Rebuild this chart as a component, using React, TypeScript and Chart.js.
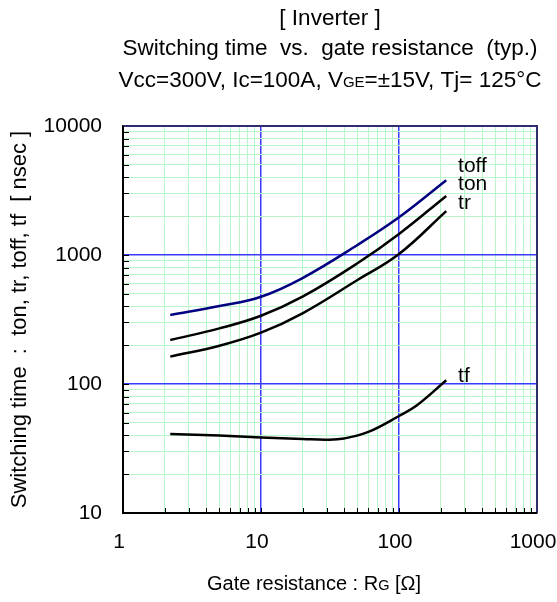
import React, { useEffect, useRef } from 'react';
import { Chart, registerables } from 'chart.js';

Chart.register(...registerables);

const FONT = "'Liberation Sans', Arial, Helvetica, sans-serif";

// ---- text ----
const titleLine1 = '[ Inverter ]';
const titleLine2 = 'Switching time  vs.  gate resistance  (typ.)';
const titleLine3Parts: [string, boolean][] = [
  ['Vcc=300V, Ic=100A, V', false],
  ['GE', true],
  ['=±15V, Tj= 125°C', false],
];
const xAxisTitleParts: [string, boolean][] = [
  ['Gate resistance : R', false],
  ['G', true],
  [' [Ω]', false],
];
const yAxisTitle = 'Switching time  :  ton, tr, toff, tf  [ nsec ]';

// ---- axes ----
const xDecades = [1, 10, 100, 1000];
const yDecades = [10, 100, 1000, 10000];
const xTickLabels = ['1', '10', '100', '1000'];
const yTickLabels = ['10', '100', '1000', '10000'];
const minorMultipliers = [1, 2, 3, 4, 5, 6, 7, 8, 9];

// ---- series ----
const rgMain = [2.2, 5, 10, 20, 50, 100, 220];
const toff = [343, 402, 475, 663, 1196, 1960, 3800];
const ton = [219, 270, 338, 475, 862, 1455, 2870];
const tr = [163, 198, 250, 353, 640, 1018, 2190];

const rgTf = [2.2, 5, 10, 20, 30, 40, 60, 100, 135, 220];
const tf = [41, 39.8, 38.5, 37.5, 37, 37.8, 42.5, 56.5, 68.5, 107];

const seriesNames = ['toff', 'ton', 'tr', 'tf'];
const seriesColors = ['#000080', '#000000', '#000000', '#000000'];
// label anchor (data coordinates)
const labelRg = [268, 268, 268, 268];
const labelTime = [4900, 3550, 2530, 115];

function buildTicks(decades: number[]): number[] {
  const out: number[] = [];
  for (let i = 0; i < decades.length - 1; i++) {
    minorMultipliers.forEach((m) => out.push(decades[i] * m));
  }
  out.push(decades[decades.length - 1]);
  return out;
}

const xTickValues = buildTicks(xDecades);
const yTickValues = buildTicks(yDecades);

const isDecade = (v: number) => {
  const l = Math.log10(v);
  return Math.abs(l - Math.round(l)) < 1e-9;
};

const GRID_GREEN = '#b8f5c8';
const GRID_BLUE = '#3a3aff';
const FRAME_NAVY = '#2e2e6e';

const TITLE_SIZE = 22.5;
const SUB_SIZE = 15;

function drawParts(ctx: CanvasRenderingContext2D, parts: [string, boolean][], cx: number, baseline: number, size: number, subSize: number) {
  const big = `${size}px ${FONT}`;
  const small = `${subSize}px ${FONT}`;
  const widths = parts.map(([t, s]) => {
    ctx.font = s ? small : big;
    return ctx.measureText(t).width;
  });
  const total = widths.reduce((a, b) => a + b, 0);
  let x = cx - total / 2;
  ctx.textAlign = 'left';
  ctx.textBaseline = 'alphabetic';
  parts.forEach(([t, s], i) => {
    ctx.font = s ? small : big;
    ctx.fillText(t, x, baseline);
    x += widths[i];
  });
}

const decorPlugin = {
  id: 'decor',
  afterDraw(chart: any) {
    const ctx: CanvasRenderingContext2D = chart.ctx;
    const { left, right, top, bottom } = chart.chartArea;
    const xs = chart.scales.x;
    const ys = chart.scales.y;
    ctx.save();

    // inward tick marks
    ctx.strokeStyle = '#000';
    ctx.lineWidth = 1;
    xTickValues.forEach((v) => {
      const px = Math.round(xs.getPixelForValue(v)) + 0.5;
      ctx.beginPath();
      ctx.moveTo(px, bottom);
      ctx.lineTo(px, bottom - 5);
      ctx.stroke();
    });
    yTickValues.forEach((v) => {
      const py = Math.round(ys.getPixelForValue(v)) + 0.5;
      ctx.beginPath();
      ctx.moveTo(left, py);
      ctx.lineTo(left + 6, py);
      ctx.stroke();
    });

    // top & right frame
    ctx.strokeStyle = FRAME_NAVY;
    ctx.lineWidth = 2;
    ctx.beginPath();
    ctx.moveTo(left, top);
    ctx.lineTo(right, top);
    ctx.lineTo(right, bottom);
    ctx.stroke();

    // bottom & left frame
    ctx.strokeStyle = '#000';
    ctx.beginPath();
    ctx.moveTo(left, top);
    ctx.lineTo(left, bottom);
    ctx.lineTo(right, bottom);
    ctx.stroke();

    // curve labels
    ctx.fillStyle = '#000';
    ctx.font = `21px ${FONT}`;
    ctx.textAlign = 'left';
    ctx.textBaseline = 'middle';
    seriesNames.forEach((n, i) => {
      ctx.fillText(n, xs.getPixelForValue(labelRg[i]), ys.getPixelForValue(labelTime[i]));
    });

    // titles
    const cx = (left + right) / 2;
    ctx.font = `${TITLE_SIZE}px ${FONT}`;
    ctx.textAlign = 'center';
    ctx.textBaseline = 'alphabetic';
    ctx.fillText(titleLine1, cx, 25);
    ctx.fillText(titleLine2, cx, 55);
    drawParts(ctx, titleLine3Parts, cx, 87, TITLE_SIZE, SUB_SIZE);

    // x axis title
    drawParts(ctx, xAxisTitleParts, cx - 16, 590, 20, 14.5);

    ctx.restore();
  },
};

const gridColor = (c: any) => (c.tick && isDecade(c.tick.value) ? GRID_BLUE : GRID_GREEN);
const gridWidth = (c: any) => (c.tick && isDecade(c.tick.value) ? 1.5 : 1);

export default function App() {
  const canvasRef = useRef<HTMLCanvasElement | null>(null);

  useEffect(() => {
    if (!canvasRef.current) return;
    const mk = (xsArr: number[], ysArr: number[]) => xsArr.map((x, i) => ({ x, y: ysArr[i] }));
    const allData = [mk(rgMain, toff), mk(rgMain, ton), mk(rgMain, tr), mk(rgTf, tf)];

    const chart = new Chart(canvasRef.current, {
      type: 'line',
      data: {
        datasets: seriesNames.map((n, i) => ({
          label: n,
          data: allData[i],
          borderColor: seriesColors[i],
          borderWidth: 2.5,
          pointRadius: 0,
          fill: false,
          tension: 0.4,
        })),
      },
      options: {
        animation: false,
        responsive: true,
        maintainAspectRatio: false,
        layout: { padding: { top: 126, right: 20, left: 0, bottom: 0 } },
        plugins: {
          legend: { display: false },
          tooltip: { enabled: false },
          title: { display: false },
        },
        scales: {
          x: {
            type: 'logarithmic',
            min: 1,
            max: 1000,
            afterBuildTicks: (scale: any) => {
              scale.ticks = xTickValues.map((v) => ({ value: v, major: isDecade(v) }));
            },
            afterFit: (scale: any) => {
              scale.height = 89;
              scale.paddingLeft = 0;
              scale.paddingRight = 0;
            },
            ticks: {
              autoSkip: false,
              maxRotation: 0,
              padding: 17,
              labelOffset: -4,
              color: '#000',
              font: { family: FONT, size: 21 },
              callback: (value: any) => {
                const idx = xDecades.findIndex((d) => Math.abs(d - Number(value)) < 1e-9);
                return idx >= 0 ? xTickLabels[idx] : '';
              },
            },
            grid: {
              drawTicks: false,
              lineWidth: gridWidth,
              color: gridColor,
            },
            border: { color: '#000', width: 2 },
          },
          y: {
            type: 'logarithmic',
            min: 10,
            max: 10000,
            afterBuildTicks: (scale: any) => {
              scale.ticks = yTickValues.map((v) => ({ value: v, major: isDecade(v) }));
            },
            afterFit: (scale: any) => {
              scale.width = 123;
              scale.paddingTop = 0;
              scale.paddingBottom = 0;
            },
            ticks: {
              autoSkip: false,
              padding: 21,
              color: '#000',
              font: { family: FONT, size: 21 },
              callback: (value: any) => {
                const idx = yDecades.findIndex((d) => Math.abs(d - Number(value)) < 1e-9);
                return idx >= 0 ? yTickLabels[idx] : '';
              },
            },
            grid: {
              drawTicks: false,
              lineWidth: gridWidth,
              color: gridColor,
            },
            border: { color: '#000', width: 2 },
            title: {
              display: true,
              text: yAxisTitle,
              color: '#000',
              font: { family: FONT, size: 22 },
              padding: { top: 7, bottom: 0 },
            },
          },
        },
      },
      plugins: [decorPlugin],
    } as any);

    return () => chart.destroy();
  }, []);

  return (
    <div style={{ position: 'fixed', left: 0, top: 0, width: 557, height: 602, background: '#fff' }}>
      <canvas ref={canvasRef} />
    </div>
  );
}
